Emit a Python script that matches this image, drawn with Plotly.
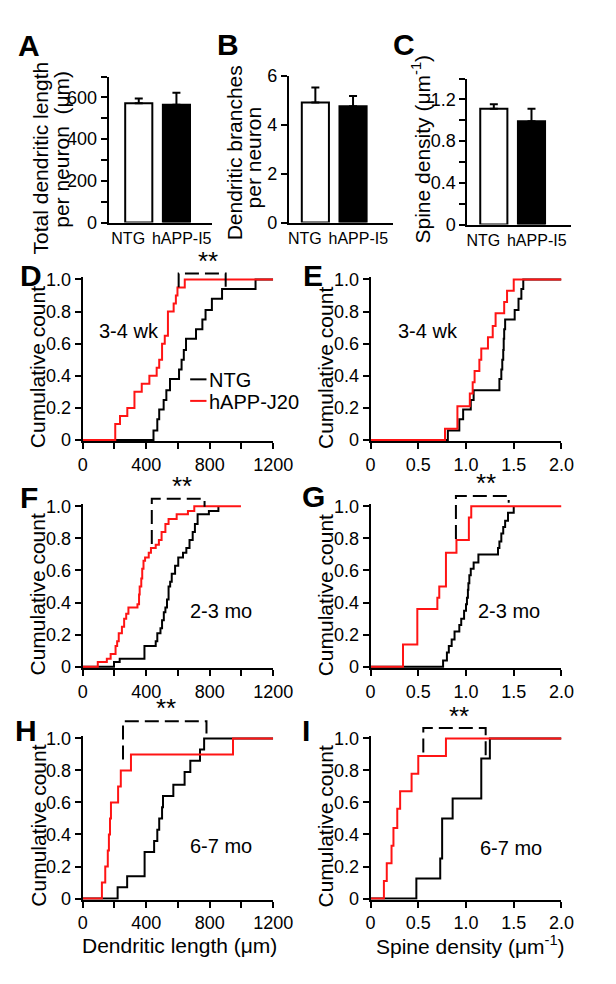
import plotly.graph_objects as go

W, H = 616, 984
FONT = "Liberation Sans, Arial, Helvetica, sans-serif"
RED = "#ff1414"

# ---------------- bar panels (A-C) ----------------
groups = ["NTG", "hAPP-I5"]
length_mean = [572, 565]
length_sem = [23, 58]
branch_mean = [4.90, 4.75]
branch_sem = [0.62, 0.42]
spine_mean = [1.11, 0.99]
spine_sem = [0.045, 0.12]

# ---------------- cumulative distributions (D-I) ----------------
# D: dendritic length, 3-4 wk
d_ntg_x = [446, 470, 482, 510, 527, 550, 607, 623, 637, 651, 714, 754, 774, 814, 878, 1089]
d_ntg_y = [0.06, 0.13, 0.19, 0.25, 0.31, 0.38, 0.44, 0.50, 0.56, 0.63, 0.69, 0.75, 0.81, 0.88, 0.94, 1.00]
d_j20_x = [205, 235, 281, 326, 372, 420, 466, 482, 500, 517, 537, 573, 587, 597, 643]
d_j20_y = [0.10, 0.15, 0.20, 0.30, 0.35, 0.40, 0.45, 0.50, 0.60, 0.65, 0.80, 0.85, 0.90, 0.95, 1.00]
d_end = [1200, 1200]

# E: spine density, 3-4 wk
e_ntg_x = [0.81, 0.93, 0.97, 1.05, 1.08, 1.35, 1.37, 1.38, 1.39, 1.395, 1.40, 1.41, 1.51, 1.55, 1.58, 1.60]
e_ntg_y = [0.06, 0.13, 0.19, 0.25, 0.31, 0.38, 0.44, 0.50, 0.56, 0.63, 0.69, 0.75, 0.81, 0.88, 0.94, 1.00]
e_j20_x = [0.78, 0.91, 1.04, 1.07, 1.09, 1.14, 1.16, 1.23, 1.28, 1.31, 1.40, 1.43, 1.50]
e_j20_y = [0.07, 0.21, 0.29, 0.36, 0.43, 0.50, 0.57, 0.64, 0.71, 0.79, 0.86, 0.93, 1.00]
e_end = [2.0, 2.0]

# F: dendritic length, 2-3 mo
f_ntg_x = [197, 233, 389, 460, 470, 490, 500, 511, 521, 531, 541, 551, 561, 582, 602, 632, 653, 673, 693, 707, 724, 795, 855]
f_ntg_y = [0.03, 0.05, 0.13, 0.16, 0.21, 0.24, 0.29, 0.34, 0.37, 0.42, 0.50, 0.53, 0.58, 0.63, 0.68, 0.71, 0.74, 0.79, 0.84, 0.89, 0.95, 0.97, 1.00]
f_j20_x = [95, 152, 176, 207, 217, 227, 247, 261, 274, 288, 345, 355, 359, 369, 375, 383, 393, 416, 430, 460, 480, 497, 521, 541, 592, 663, 703]
f_j20_y = [0.03, 0.05, 0.08, 0.13, 0.16, 0.21, 0.25, 0.30, 0.33, 0.37, 0.39, 0.45, 0.50, 0.55, 0.61, 0.66, 0.68, 0.71, 0.74, 0.76, 0.79, 0.84, 0.89, 0.92, 0.95, 0.97, 1.00]
f_end = [855, 997]

# G: spine density, 2-3 mo
g_ntg_x = [0.76, 0.80, 0.82, 0.85, 0.88, 0.93, 0.95, 0.98, 1.00, 1.01, 1.02, 1.025, 1.035, 1.05, 1.08, 1.13, 1.335, 1.35, 1.37, 1.39, 1.41, 1.44, 1.50]
g_ntg_y = [0.04, 0.09, 0.13, 0.17, 0.22, 0.26, 0.30, 0.35, 0.39, 0.43, 0.48, 0.52, 0.57, 0.61, 0.65, 0.70, 0.74, 0.78, 0.83, 0.87, 0.91, 0.96, 1.00]
g_j20_x = [0.34, 0.49, 0.70, 0.72, 0.79, 0.90, 1.03, 1.055]
g_j20_y = [0.14, 0.36, 0.43, 0.50, 0.71, 0.79, 0.93, 1.00]
g_end = [1.50, 2.0]

# H: dendritic length, 6-7 mo
h_ntg_x = [220, 280, 390, 450, 470, 482, 500, 506, 571, 642, 678, 739, 765]
h_ntg_y = [0.07, 0.14, 0.29, 0.36, 0.43, 0.50, 0.57, 0.64, 0.71, 0.79, 0.86, 0.93, 1.00]
h_j20_x = [121, 142, 158, 165, 172, 178, 223, 240, 304, 947]
h_j20_y = [0.10, 0.20, 0.30, 0.40, 0.50, 0.60, 0.70, 0.80, 0.90, 1.00]
h_end = [1200, 1200]

# I: spine density, 6-7 mo
i_ntg_x = [0.48, 0.73, 0.75, 0.86, 1.16, 1.25]
i_ntg_y = [0.125, 0.25, 0.50, 0.625, 0.875, 1.00]
i_j20_x = [0.14, 0.17, 0.22, 0.24, 0.28, 0.31, 0.43, 0.50, 0.79]
i_j20_y = [0.11, 0.22, 0.33, 0.44, 0.56, 0.67, 0.78, 0.89, 1.00]
i_end = [2.0, 2.0]

series_names = ["NTG", "hAPP-J20"]
len_ticks = [0, 400, 800, 1200]
len_ticktext = ["0", "400", "800", "1200"]
dens_ticks = [0, 0.5, 1.0, 1.5, 2.0]
dens_ticktext = ["0", "0.5", "1.0", "1.5", "2.0"]
cum_ticks = [0, 0.2, 0.4, 0.6, 0.8, 1.0]
cum_ticktext = ["0", "0.2", "0.4", "0.6", "0.8", "1.0"]

TICK = 18
TITLE = 21


def px(x):
    return x / W


def py(y):
    return 1 - y / H


fig = go.Figure()

AX = dict(showline=True, linecolor="black", linewidth=2, ticks="outside", ticklen=6,
          tickwidth=2, tickcolor="black", showgrid=False, zeroline=False,
          tickfont=dict(family=FONT, size=TICK, color="black"), fixedrange=True)

layout_axes = {}

# ---- bar panels ----
bar_panels = [
    (1, 108, 216, 68, 217, [0, 700], 200, 100, length_mean, length_sem, [-0.8, 1.95]),
    (2, 296, 404, 67, 217, [0, 6], 2, None, branch_mean, branch_sem, [-0.7, 2.05]),
    (3, 482, 590, 70, 219, [0, 1.4], 0.4, 0.2, spine_mean, spine_sem, [-0.7, 2.05]),
]
for idx, x0, x1, yt, yb, yr, ydt, ymin, mean, sem, xr in bar_panels:
    sfx = "" if idx == 1 else str(idx)
    fig.add_trace(go.Bar(
        x=[0, 1], y=mean, width=0.72,
        marker=dict(color=["white", "black"], line=dict(color="black", width=2)),
        error_y=dict(type="data", array=sem, arrayminus=[0, 0], symmetric=False,
                     color="black", thickness=2, width=4),
        xaxis="x" + sfx, yaxis="y" + sfx, showlegend=False))
    ya = dict(AX, domain=[py(yb), py(yt)], range=yr, tick0=0, dtick=ydt, anchor="x" + sfx)
    if ymin:
        ya["minor"] = dict(tick0=0, dtick=ymin, ticks="outside", ticklen=6, tickwidth=2,
                           tickcolor="black", showgrid=False)
    xa = dict(AX, domain=[px(x0), px(x1)], range=xr, ticks="", tickmode="array",
              tickvals=[-0.28, 1.14], ticktext=groups, tickangle=0,
              tickfont=dict(family=FONT, size=16, color="black"), anchor="y" + sfx)
    layout_axes["xaxis" + sfx] = xa
    layout_axes["yaxis" + sfx] = ya

# ---- cumulative panels ----
rows = {1: (439, 275), 2: (670.5, 506.5), 3: (907, 743.5)}
cols = {0: (81, 279.5), 1: (381, 580)}
YR = [-0.008, 1.012]

cum_panels = [
    (4, 1, 0, d_ntg_x, d_ntg_y, d_j20_x, d_j20_y, d_end),
    (5, 1, 1, e_ntg_x, e_ntg_y, e_j20_x, e_j20_y, e_end),
    (6, 2, 0, f_ntg_x, f_ntg_y, f_j20_x, f_j20_y, f_end),
    (7, 2, 1, g_ntg_x, g_ntg_y, g_j20_x, g_j20_y, g_end),
    (8, 3, 0, h_ntg_x, h_ntg_y, h_j20_x, h_j20_y, h_end),
    (9, 3, 1, i_ntg_x, i_ntg_y, i_j20_x, i_j20_y, i_end),
]


def step_xy(xs, ys, end):
    return [0] + list(xs) + [end], [0] + list(ys) + [ys[-1]]


for idx, r, c, nx, ny, jx, jy, ends in cum_panels:
    sfx = str(idx)
    zero_px, one_px = rows[r]
    unit = zero_px - one_px
    yb = zero_px - YR[0] * unit
    yt = one_px - (YR[1] - 1) * unit
    x0, x1 = cols[c]
    for xs, ys, end, col, name in [(nx, ny, ends[0], "black", series_names[0]),
                                   (jx, jy, ends[1], RED, series_names[1])]:
        sx, sy = step_xy(xs, ys, end)
        fig.add_trace(go.Scatter(x=sx, y=sy, mode="lines", name=name,
                                 line=dict(color=col, width=2, shape="hv"),
                                 xaxis="x" + sfx, yaxis="y" + sfx, showlegend=False))
    ya = dict(AX, domain=[py(yb), py(yt)], range=YR, tickmode="array",
              tickvals=cum_ticks, ticktext=cum_ticktext, anchor="x" + sfx)
    if c == 0:
        xa = dict(AX, domain=[px(x0), px(x1)], range=[0, 1200], tickmode="array",
                  tickvals=len_ticks, ticktext=len_ticktext, anchor="y" + sfx,
                  minor=dict(tickmode="linear", tick0=0, dtick=200, ticks="outside",
                             ticklen=6, tickwidth=2, tickcolor="black", showgrid=False))
    else:
        xa = dict(AX, domain=[px(x0), px(x1)], range=[0, 2], tickmode="array",
                  tickvals=dens_ticks, ticktext=dens_ticktext, anchor="y" + sfx)
    layout_axes["xaxis" + sfx] = xa
    layout_axes["yaxis" + sfx] = ya

annotations = []


def text(x, y, s, size, bold=False, angle=0, xanchor="center"):
    annotations.append(dict(x=px(x), y=py(y), xref="paper", yref="paper",
                            text=("<b>%s</b>" % s) if bold else s, showarrow=False,
                            textangle=angle, xanchor=xanchor, yanchor="middle",
                            font=dict(family=FONT, size=size, color="black")))


# panel letters
for lab, x, y in [("A", 25, 36), ("B", 232, 35), ("C", 416, 35), ("D", 27, 271),
                  ("E", 321, 271), ("F", 25, 498), ("G", 322, 497), ("H", 22, 735),
                  ("I", 314, 735)]:
    text(x, y, lab, 30, bold=True)

# y-axis titles
text(37, 151, "Total dendritic length", TITLE, angle=-90)
text(58, 142, "per neuron\u00a0\u00a0(\u03bcm)", TITLE, angle=-90)
text(239, 146, "Dendritic branches", TITLE, angle=-90)
text(259, 150, "per neuron", TITLE, angle=-90)
text(434, 142, "Spine density (\u03bcm<sup>-1</sup>)", TITLE, angle=-90)
for xc in (34, 334):
    for yc in (365, 597, 833):
        text(xc, yc, "Cumulative count", TITLE, angle=-90)

# x-axis titles
text(182, 955, "Dendritic length (\u03bcm)", TITLE)
text(485, 954, "Spine density (\u03bcm<sup>-1</sup>)", TITLE)

# age labels
for s, x, y in [("3-4 wk", 129, 328), ("3-4 wk", 441, 328), ("2-3 mo", 225, 613),
                ("2-3 mo", 525, 613), ("6-7 mo", 225, 853), ("6-7 mo", 527, 855)]:
    text(x, y, s, 20)

# significance stars
for x, y in [(212, 256), (184, 486), (501, 483), (168, 712), (473, 721)]:
    text(x, y, "**", 26)

shapes = []
# significance brackets (pixel positions)
for xl, xr, yt, ybl, ybr in [(181, 230, 269, 283, 283), (153, 208, 499, 545, 507),
                             (470, 525, 496, 540, 503), (123, 210, 726, 765, 740),
                             (436, 501, 733, 758, 762)]:
    path = "M %f,%f L %f,%f L %f,%f L %f,%f" % (px(xl), py(ybl), px(xl), py(yt),
                                               px(xr), py(yt), px(xr), py(ybr))
    shapes.append(dict(type="path", path=path, xref="paper", yref="paper",
                       line=dict(color="black", width=2, dash="14px,6px")))

# legend in panel D
for name, col, y in [(series_names[0], "black", 377), (series_names[1], RED, 399)]:
    shapes.append(dict(type="line", xref="paper", yref="paper", x0=px(193), x1=px(210),
                       y0=py(y), y1=py(y), line=dict(color=col, width=2)))
    text(211, y + 1, name, 20, xanchor="left")

fig.update_layout(
    width=W, height=H, autosize=False,
    margin=dict(l=0, r=0, t=0, b=0),
    paper_bgcolor="white", plot_bgcolor="white",
    font=dict(family=FONT, size=TICK, color="black"),
    showlegend=False, bargap=0,
    annotations=annotations, shapes=shapes,
    **layout_axes,
)

fig.write_html("out.html",
               config={"displayModeBar": False, "staticPlot": True},
               post_script="document.body.style.margin='0px';"
                           "document.body.style.overflow='hidden';")
